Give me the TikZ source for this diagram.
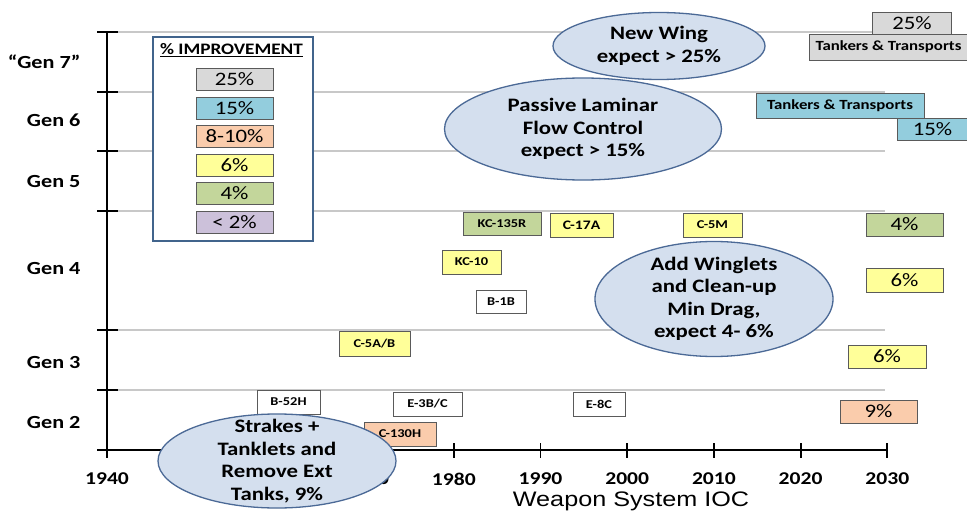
\documentclass[tikz,border=0pt]{standalone}
\usepackage{fontspec}
\setmainfont{Carlito}[FakeStretch=1.2]
\newfontfamily\axisfont{Liberation Sans}[FakeStretch=1.2]
\usetikzlibrary{shapes.geometric}
\definecolor{gridgray}{RGB}{200,200,200}
\definecolor{boxedge}{RGB}{90,90,90}
\definecolor{legendedge}{RGB}{65,100,140}
\definecolor{ideafill}{RGB}{212,223,238}
\definecolor{ideaedge}{RGB}{75,105,150}
\definecolor{pctgray}{RGB}{217,217,217}
\definecolor{pctblue}{RGB}{147,205,221}
\definecolor{pctpeach}{RGB}{250,204,172}
\definecolor{pctyellow}{RGB}{255,255,153}
\definecolor{pctgreen}{RGB}{195,214,155}
\definecolor{pctlav}{RGB}{204,193,218}

\begin{document}
\begin{tikzpicture}[x=1pt,y=-1pt,
  gridline/.style={draw=gridgray,line width=1.6pt},
  axisline/.style={line width=2.6pt},
  genlabel/.style={anchor=east,font=\bfseries\fontsize{18.5}{20}\selectfont},
  yearlabel/.style={font=\bfseries\fontsize{18}{20}\selectfont},
  acbox/.style={draw=boxedge,line width=0.8pt,inner sep=0pt,font=\bfseries\fontsize{12}{14}\selectfont},
  ttbox/.style={acbox,font=\bfseries\fontsize{14}{16}\selectfont},
  pctbox/.style={draw=boxedge,line width=0.8pt,inner sep=0pt,font=\fontsize{19}{21}\selectfont},
  idea/.style={ellipse,draw=ideaedge,fill=ideafill,line width=1.3pt,inner sep=0pt},
  ideatext/.style={align=center,inner sep=0pt,font=\bfseries\fontsize{19}{22.5}\selectfont}]
  \useasboundingbox[fill=white] (0,0) rectangle (967,516);

  % grid lines
  \foreach \gy in {32,92,151,211,330,390}
    \draw[gridline] (118,\gy) -- (885,\gy);

  % axes
  \draw[axisline] (107,32) -- (107,450) -- (887,450);
  \foreach \gy in {32,92,151,211,330,390,450}
    \draw[line width=1.8pt] (97,\gy) -- (118,\gy);
  \foreach \i in {0,...,9}
    \draw[line width=1.8pt] (107+86.7*\i,443) -- (107+86.7*\i,458);
  \foreach \yr/\i in {1940/0,1970/3,1980/4,1990/5,2000/6,2010/7,2020/8,2030/9}
    \node[yearlabel] (yr\yr) at (107+86.7*\i,479) {\yr};
  \node[font=\axisfont\fontsize{21}{24}\selectfont] (xtitle) at (631,501) {Weapon System IOC};

  % generation labels
  \node[genlabel] (gen7) at (84,62) {“Gen 7”};
  \node[genlabel] (gen6) at (84,120) {Gen 6};
  \node[genlabel] (gen5) at (84,182) {Gen 5};
  \node[genlabel] (gen4) at (84,269) {Gen 4};
  \node[genlabel] (gen3) at (84,363) {Gen 3};
  \node[genlabel] (gen2) at (84,422) {Gen 2};

  % legend
  \node[draw=legendedge,fill=white,line width=1.6pt,minimum width=160,minimum height=204,inner sep=0pt] (legend) at (233,139) {};
  \node[font=\bfseries\fontsize{16}{18}\selectfont] (legtitle) at (231.5,50) {\underline{\% IMPROVEMENT}};
  \foreach \lab/\col/\ly [count=\k] in {25\%/pctgray/79,15\%/pctblue/108,8-10\%/pctpeach/136,6\%/pctyellow/165,4\%/pctgreen/193.5,< 2\%/pctlav/222.5}
    \node[pctbox,fill=\col,minimum width=77,minimum height=22] (leg\k) at (234.5,\ly) {\lab};

  % aircraft
  \node[acbox,fill=white,minimum width=63,minimum height=24] (b52h) at (288.5,402) {B-52H};
  \node[acbox,fill=pctpeach,minimum width=72,minimum height=24] (c130h) at (400,434) {C-130H};
  \node[acbox,fill=white,minimum width=69,minimum height=24] (e3bc) at (427.5,404) {E-3B/C};
  \node[acbox,fill=white,minimum width=52,minimum height=24] (e8c) at (599,404) {E-8C};
  \node[acbox,fill=pctyellow,minimum width=71,minimum height=25] (c5ab) at (374.5,343.5) {C-5A/B};
  \node[acbox,fill=white,minimum width=50,minimum height=23] (b1b) at (501,301.5) {B-1B};
  \node[acbox,fill=pctyellow,minimum width=59,minimum height=24] (kc10) at (471.5,262) {KC-10};
  \node[acbox,fill=pctgreen,minimum width=78,minimum height=23] (kc135r) at (502,223.5) {KC-135R};
  \node[acbox,fill=pctyellow,minimum width=63,minimum height=24,font=\bfseries\fontsize{13}{15}\selectfont] (c17a) at (581.5,225) {C-17A};
  \node[acbox,fill=pctyellow,minimum width=59,minimum height=24] (c5m) at (712.5,225) {C-5M};

  % right hand gains
  \node[pctbox,fill=pctgray,minimum width=79,minimum height=22] (g25) at (912,23) {25\%};
  \node[ttbox,fill=pctgray,minimum width=159,minimum height=26] (tt7) at (888.5,47) {Tankers \& Transports};
  \node[ttbox,fill=pctblue,minimum width=168,minimum height=25] (tt6) at (840,105.5) {Tankers \& Transports};
  \node[pctbox,fill=pctblue,minimum width=71,minimum height=22] (g15) at (932.5,129) {15\%};
  \node[pctbox,fill=pctgreen,minimum width=77,minimum height=23] (g4) at (904.5,224.5) {4\%};
  \node[pctbox,fill=pctyellow,minimum width=77,minimum height=24] (g6a) at (904.5,280) {6\%};
  \node[pctbox,fill=pctyellow,minimum width=78,minimum height=23] (g6b) at (887,356.5) {6\%};
  \node[pctbox,fill=pctpeach,minimum width=77,minimum height=23] (g9) at (878.5,411.5) {9\%};

  % technology ellipses
  \node[idea,minimum width=212,minimum height=67,label={[ideatext]center:{New Wing\\expect > 25\%}}] (newwing) at (659,46) {};
  \node[idea,minimum width=277,minimum height=102,label={[ideatext]center:{Passive Laminar\\Flow Control\\expect > 15\%}}] (laminar) at (583,129) {};
  \node[idea,minimum width=238,minimum height=115,label={[ideatext]center:{Add Winglets\\and Clean-up\\Min Drag,\\expect 4- 6\%}}] (winglets) at (714,299) {};
  \node[idea,minimum width=238,minimum height=94,label={[ideatext]center:{Strakes +\\Tanklets and\\Remove Ext\\Tanks, 9\%}}] (strakes) at (277,461) {};
\end{tikzpicture}
\end{document}
